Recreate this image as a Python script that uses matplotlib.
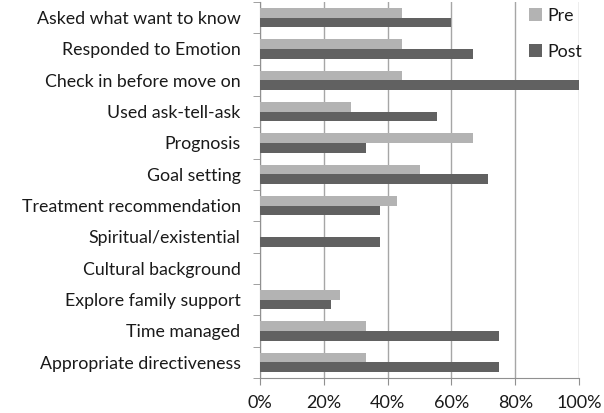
import matplotlib
matplotlib.use("Agg")
import matplotlib.pyplot as plt
import numpy as np
from matplotlib.ticker import FixedLocator, PercentFormatter

categories = ["Asked what want to know", "Responded to Emotion", "Check in before move on",
              "Used ask-tell-ask", "Prognosis", "Goal setting", "Treatment recommendation",
              "Spiritual/existential", "Cultural background", "Explore family support",
              "Time managed", "Appropriate directiveness"]
pre = [44.4, 44.4, 44.4, 28.6, 66.7, 50.0, 42.9, 0, 0, 25.0, 33.3, 33.3]
post = [60.0, 66.7, 100.0, 55.6, 33.3, 71.4, 37.5, 37.5, 0, 22.2, 75.0, 75.0]
xticks = [0, 20, 40, 60, 80, 100]

plt.rcParams['font.family'] = ['Lato', 'DejaVu Sans']

fig = plt.figure(figsize=(6.04, 4.13), dpi=100)
ax = fig.add_axes([260/604, 1-378/413, 319/604, 376/413])

n = len(categories)
y = np.arange(n)[::-1]
h = 0.31
ax.barh(y + h/2, pre, height=h, color="#b3b3b3", label="Pre", zorder=3)
ax.barh(y - h/2, post, height=h, color="#616161", label="Post", zorder=3)

ax.set_xlim(0, 100)
ax.set_ylim(-0.5, n - 0.5)
ax.set_xticks(xticks)
ax.xaxis.set_major_formatter(PercentFormatter(decimals=0))
ax.grid(axis="x", color="#a6a6a6", linewidth=1, zorder=0)
ax.set_yticks(y)
ax.set_yticklabels(categories, fontsize=12.8, color="#1a1a1a")
ax.yaxis.set_minor_locator(FixedLocator(np.arange(-0.5, n, 1.0)))
ax.tick_params(axis="y", which="major", length=0, pad=14)
ax.tick_params(axis="y", which="minor", length=5, color="#909090")
ax.tick_params(axis="x", length=5, color="#909090", labelsize=13, labelcolor="#1a1a1a", pad=7)
for s in ["top", "right"]:
    ax.spines[s].set_visible(False)
for s in ["left", "bottom"]:
    ax.spines[s].set_color("#909090")

leg = ax.legend(loc="upper left", bbox_to_anchor=(525/604, 1-4/413), bbox_transform=fig.transFigure,
                frameon=False, fontsize=12.8, handlelength=0.75, handleheight=0.75,
                handletextpad=0.3, labelspacing=1.15, borderaxespad=0, borderpad=0.2)
for t in leg.get_texts():
    t.set_color("#1a1a1a")

fig.savefig("out.png", dpi=100)
